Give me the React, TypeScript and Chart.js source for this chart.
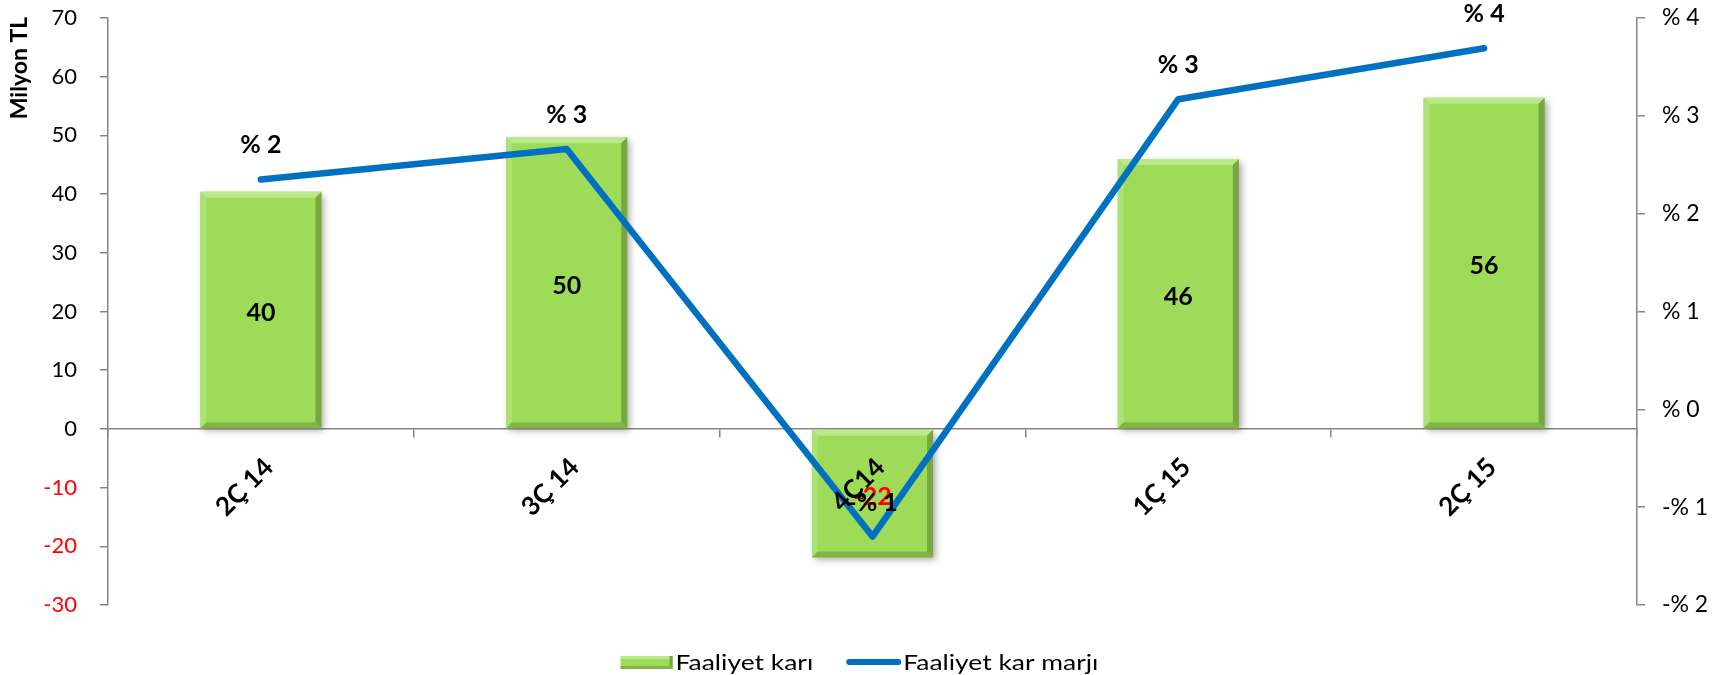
import React, { useEffect, useRef } from 'react';
import { Chart, registerables } from 'chart.js';

Chart.register(...registerables);

const categories = ['2Ç 14', '3Ç 14', '4Ç14', '1Ç 15', '2Ç 15'];
const profitLabel = 'Faaliyet karı';
const marginLabel = 'Faaliyet kar marjı';
const operatingProfit = [40.4, 49.7, -21.9, 46.0, 56.4];
const operatingMargin = [2.35, 2.66, -1.3, 3.17, 3.69];
const leftRange = [-30, 70];
const leftStep = 10;
const rightRange = [-2, 4];
const rightStep = 1;
const leftTitle = 'Milyon TL';

const FONT = 'Lato, "DejaVu Sans", sans-serif';
const AXIS_GRAY = '#868686';
const BAR_GREEN = '#9DDB59';
const LINE_BLUE = '#0070C0';

const fmtPct = (v: number) => {
  const r = Math.round(v);
  return r < 0 ? `-% ${Math.abs(r)}` : `% ${r}`;
};

const decorPlugin = {
  id: 'decor',
  beforeDatasetDraw(chart: any, args: any) {
    if (args.index !== 0) return;
    const ctx = chart.ctx;
    ctx.save();
    ctx.shadowColor = 'rgba(0,0,0,0.35)';
    ctx.shadowBlur = 7;
    ctx.shadowOffsetX = 3;
    ctx.shadowOffsetY = 3;
  },
  afterDatasetDraw(chart: any, args: any) {
    if (args.index !== 0) return;
    const ctx = chart.ctx;
    ctx.restore();
    args.meta.data.forEach((el: any) => {
      const { x, y, base, width } = el.getProps(['x', 'y', 'base', 'width'], true);
      const l = x - width / 2;
      const r = x + width / 2;
      const t = Math.min(y, base);
      const bt = Math.max(y, base);
      const b = 6;
      const poly = (pts: number[][], color: string) => {
        ctx.beginPath();
        ctx.moveTo(pts[0][0], pts[0][1]);
        for (let i = 1; i < pts.length; i++) ctx.lineTo(pts[i][0], pts[i][1]);
        ctx.closePath();
        ctx.fillStyle = color;
        ctx.fill();
      };
      poly([[l, t], [r, t], [r - b, t + b], [l + b, t + b]], '#B9E98C');
      poly([[l, t], [l + b, t + b], [l + b, bt - b], [l, bt]], '#ABE274');
      poly([[r, t], [r, bt], [r - b, bt - b], [r - b, t + b]], '#76A83F');
      poly([[l, bt], [r, bt], [r - b, bt - b], [l + b, bt - b]], '#82B548');
    });
  },
  afterDatasetsDraw(chart: any) {
    const ctx = chart.ctx;
    ctx.save();
    ctx.textAlign = 'center';
    ctx.textBaseline = 'middle';
    ctx.font = `bold 25px ${FONT}`;
    const barMeta = chart.getDatasetMeta(0);
    barMeta.data.forEach((el: any, i: number) => {
      const { x, y, base } = el.getProps(['x', 'y', 'base'], true);
      const v = chart.data.datasets[0].data[i];
      ctx.fillStyle = v < 0 ? '#FF0000' : '#000000';
      ctx.fillText(String(Math.round(v)), x, (y + base) / 2 + 3);
    });
    const lineMeta = chart.getDatasetMeta(1);
    lineMeta.data.forEach((el: any, i: number) => {
      const { x, y } = el.getProps(['x', 'y'], true);
      const v = chart.data.datasets[1].data[i];
      ctx.fillStyle = '#000000';
      ctx.fillText(fmtPct(v), x, y - 34);
    });
    ctx.restore();
  },
  afterDraw(chart: any) {
    const ctx = chart.ctx;
    ctx.save();
    // axis title
    ctx.translate(20, 68);
    ctx.rotate(-Math.PI / 2);
    ctx.font = `bold 23px ${FONT}`;
    ctx.fillStyle = '#000';
    ctx.textAlign = 'center';
    ctx.textBaseline = 'middle';
    ctx.fillText(leftTitle, 0, 0);
    ctx.restore();

    // legend
    ctx.save();
    ctx.font = `22px ${FONT}`;
    ctx.textBaseline = 'middle';
    ctx.textAlign = 'left';
    const sx = 1.2;
    const t1 = chart.data.datasets[0].label;
    const t2 = chart.data.datasets[1].label;
    const w1 = ctx.measureText(t1).width * sx;
    const w2 = ctx.measureText(t2).width * sx;
    const boxW = 52, lineW = 55, gapText = 3, gapItems = 33;
    const total = boxW + gapText + w1 + gapItems + lineW + 2 + w2;
    let x = chart.width / 2 - total / 2;
    const yc = chart.height - 13;
    const bx = x, by = yc - 6, bw = boxW, bh = 13;
    ctx.fillStyle = BAR_GREEN;
    ctx.fillRect(bx, by, bw, bh);
    const bev = 3;
    ctx.fillStyle = '#B9E98C';
    ctx.fillRect(bx, by, bw, bev);
    ctx.fillStyle = '#76A83F';
    ctx.fillRect(bx + bw - bev, by, bev, bh);
    ctx.fillStyle = '#82B548';
    ctx.fillRect(bx, by + bh - bev, bw, bev);
    x += boxW + gapText;
    ctx.fillStyle = '#000';
    ctx.save();
    ctx.translate(x, yc + 1);
    ctx.scale(sx, 1);
    ctx.fillText(t1, 0, 0);
    ctx.restore();
    x += w1 + gapItems;
    ctx.strokeStyle = LINE_BLUE;
    ctx.lineWidth = 6;
    ctx.lineCap = 'round';
    ctx.beginPath();
    ctx.moveTo(x + 3, yc);
    ctx.lineTo(x + lineW - 3, yc);
    ctx.stroke();
    x += lineW + 2;
    ctx.save();
    ctx.translate(x, yc + 1);
    ctx.scale(sx, 1);
    ctx.fillText(t2, 0, 0);
    ctx.restore();
    ctx.restore();
  },
};

export default function App() {
  const ref = useRef<HTMLCanvasElement | null>(null);

  useEffect(() => {
    if (!ref.current) return;
    Chart.defaults.font.family = FONT;
    const chart = new Chart(ref.current, {
      data: {
        labels: categories,
        datasets: [
          {
            type: 'bar',
            label: profitLabel,
            data: operatingProfit,
            backgroundColor: BAR_GREEN,
            borderWidth: 0,
            yAxisID: 'y',
            order: 1,
            barPercentage: 0.396,
            categoryPercentage: 1,
          },
          {
            type: 'line',
            label: marginLabel,
            data: operatingMargin,
            borderColor: LINE_BLUE,
            backgroundColor: LINE_BLUE,
            borderWidth: 6.5,
            pointRadius: 0,
            pointHoverRadius: 0,
            tension: 0,
            borderCapStyle: 'round',
            borderJoinStyle: 'round',
            yAxisID: 'y1',
            order: 0,
          },
        ],
      } as any,
      options: {
        responsive: false,
        animation: false,
        layout: { padding: { left: 0, right: 0, top: 18, bottom: 70 } },
        plugins: {
          legend: { display: false },
          tooltip: { enabled: false },
          title: { display: false },
        },
        scales: {
          x: {
            type: 'category',
            position: { y: 0 } as any,
            offset: true,
            grid: {
              offset: true,
              drawOnChartArea: false,
              drawTicks: true,
              tickLength: 8,
              color: AXIS_GRAY,
              lineWidth: 1.5,
            },
            border: { display: true, color: AXIS_GRAY, width: 1.5 },
            ticks: {
              z: 1,
              autoSkip: false,
              minRotation: 45,
              maxRotation: 45,
              labelOffset: 8,
              padding: 15,
              color: '#000',
              font: { size: 26, weight: 'bold' },
            },
          },
          y: {
            type: 'linear',
            position: 'left',
            min: leftRange[0],
            max: leftRange[1],
            grid: {
              drawOnChartArea: false,
              drawTicks: true,
              tickLength: 8,
              color: AXIS_GRAY,
              lineWidth: 1.5,
            },
            border: { display: true, color: AXIS_GRAY, width: 1.5 },
            ticks: {
              stepSize: leftStep,
              padding: 23,
              font: { size: 22 },
              color: (c: any) => (c.tick && c.tick.value < 0 ? '#FF0000' : '#000000'),
            },
            afterFit: (s: any) => {
              s.width = 108;
              s.paddingTop = 10;
              s.paddingBottom = 10;
            },
          },
          y1: {
            type: 'linear',
            position: 'right',
            min: rightRange[0],
            max: rightRange[1],
            grid: {
              drawOnChartArea: false,
              drawTicks: true,
              tickLength: 8,
              color: AXIS_GRAY,
              lineWidth: 1.5,
            },
            border: { display: true, color: AXIS_GRAY, width: 1.5 },
            ticks: {
              stepSize: rightStep,
              padding: 17,
              font: { size: 23 },
              color: '#000',
              callback: (v: any) => fmtPct(Number(v)),
            },
            afterFit: (s: any) => {
              s.width = 82;
              s.paddingTop = 10;
              s.paddingBottom = 10;
            },
          },
        },
      } as any,
      plugins: [decorPlugin],
    });
    return () => chart.destroy();
  }, []);

  return (
    <div style={{ position: 'fixed', left: 0, top: 0, width: 1719, height: 675, background: '#fff' }}>
      <canvas ref={ref} width={1719} height={675} style={{ width: 1719, height: 675, display: 'block' }} />
    </div>
  );
}
